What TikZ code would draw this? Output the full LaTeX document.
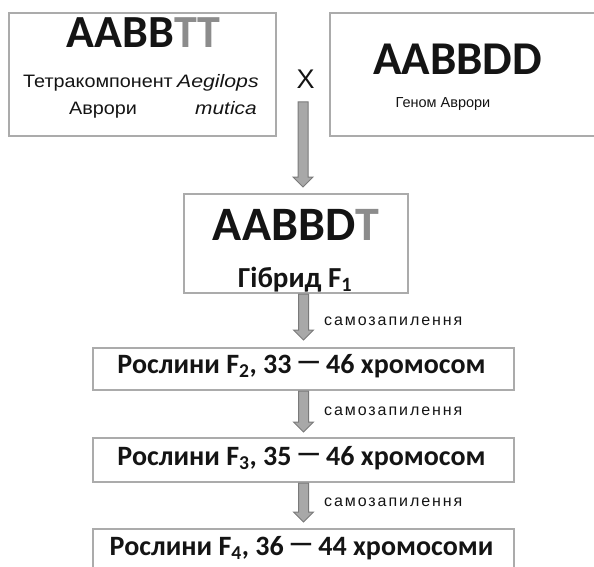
\documentclass[tikz,border=0pt]{standalone}
\usepackage{fontspec}
\setmainfont{Carlito}
\newfontfamily\arialf{Liberation Sans}
\newfontfamily\arialsp[LetterSpace=12]{Liberation Sans}
\usetikzlibrary{calc}
\definecolor{boxgray}{HTML}{ABABAB}
\definecolor{arrfill}{HTML}{A8A8A8}
\definecolor{arrline}{HTML}{7A7A7A}
\definecolor{tgray}{HTML}{8C8C8C}
\definecolor{txt}{HTML}{141414}
\newcommand{\mydash}{\,\raisebox{2.5pt}{—}\,}
\begin{document}
\begin{tikzpicture}[x=1pt,y=-1pt,
  box/.style={draw=boxgray, line width=2pt, inner sep=0pt, anchor=north west},
  big/.style={anchor=base, text=txt, inner sep=0pt, font=\bfseries\fontsize{#1}{#1}\selectfont},
  small/.style={anchor=base west, text=txt, inner sep=0pt, font=\arialf\fontsize{18}{18}\selectfont},
  smallit/.style={anchor=base west, text=txt, inner sep=0pt, font=\arialf\itshape\fontsize{18}{18}\selectfont},
  lbl/.style={anchor=base west, text=txt, inner sep=0pt, font=\arialsp\fontsize{16}{16}\selectfont},
  fatarrow/.style={draw=arrline, fill=arrfill, line width=1pt,
    to path={let \p1=(\tikztostart), \p2=(\tikztotarget) in
      (\x1-5pt,\y1) -- (\x1-5pt,\y2+10pt) -- (\x1-10pt,\y2+10pt) -- (\x1,\y2)
      -- (\x1+10pt,\y2+10pt) -- (\x1+5pt,\y2+10pt) -- (\x1+5pt,\y1) -- cycle}}]
\useasboundingbox (0,0) rectangle (594,567);
% boxes
\node[box, minimum width=267pt, minimum height=123pt] (p1) at (8,12) {};
\node[box, minimum width=270pt, minimum height=123pt] (p2) at (329,12) {};
\node[box, minimum width=224pt, minimum height=99pt] (f1) at (183,193) {};
\node[box, minimum width=421pt, minimum height=42pt] (f2) at (92,347) {};
\node[box, minimum width=421pt, minimum height=44pt] (f3) at (92,437) {};
\node[box, minimum width=421pt, minimum height=50pt] (f4) at (92,528) {};
% texts
\node[big=46] (t1) at (143.5,48) {AABB\textcolor{tgray}{TT}};
\node[small] (t1a) at (23,88) {\scalebox{1.1}[1]{Тетракомпонент}};
\node[smallit] (t1b) at (177,88) {\scalebox{1.18}[1]{Aegilops}};
\node[small] (t1c) at (69,115) {\scalebox{1.1}[1]{Аврори}};
\node[smallit] (t1d) at (195,115) {\scalebox{1.16}[1]{mutica}};
\node[anchor=base, text=txt, inner sep=0pt, font=\arialf\fontsize{27}{27}\selectfont] (xm) at (305.5,89) {X};
\node[big=47] (t2) at (457.5,75) {AABBDD};
\node[anchor=base, text=txt, inner sep=0pt, font=\arialf\fontsize{14.5}{14.5}\selectfont] (t2a) at (443,108) {Геном Аврори};
\node[big=48] (t3) at (296,240) {AABBD\textcolor{tgray}{T}};
\node[big=29] (t3a) at (295,287) {Гібрид F\textsubscript{1}};
\node[big=28] (t4) at (301.5,373) {Рослини F\textsubscript{2}, 33\mydash46 хромосом};
\node[big=28] (t5) at (301.5,465) {Рослини F\textsubscript{3}, 35\mydash46 хромосом};
\node[big=28] (t6) at (301.5,555) {Рослини F\textsubscript{4}, 36\mydash44 хромосоми};
\node[lbl] (s1) at (324,325) {самозапилення};
\node[lbl] (s2) at (324,415) {самозапилення};
\node[lbl] (s3) at (324,506) {самозапилення};
% arrows
\coordinate (a0) at (303,102);
\draw[fatarrow] (a0) to ([yshift=6pt]f1.north);
\draw[fatarrow] (f1.south -| f2.north) to ([yshift=7pt]f2.north);
\draw[fatarrow] (f2.south) to ([yshift=5pt]f3.north);
\draw[fatarrow] (f3.south) to ([yshift=6pt]f4.north);
\end{tikzpicture}
\end{document}
